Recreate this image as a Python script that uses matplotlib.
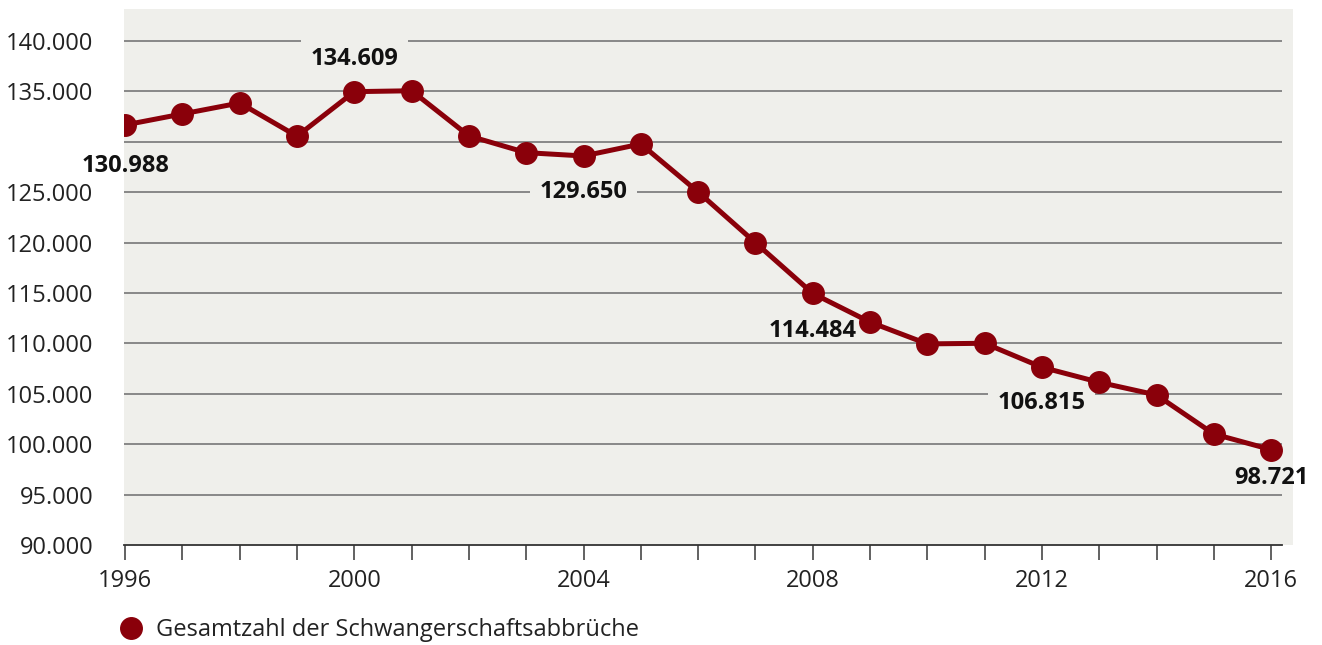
import matplotlib
matplotlib.use('agg')
import matplotlib.pyplot as plt
from matplotlib.lines import Line2D
from matplotlib.patches import Rectangle

plt.rcParams['font.family'] = ['Open Sans', 'DejaVu Sans']

# values
years = list(range(1996, 2017))
abbrueche = [131670, 132760, 133850, 130550, 134970, 135060, 130580, 128920, 128590, 129780,
             125020, 119990, 114960, 112110, 109950, 110010, 107630, 106140, 104880, 101010, 99460]

# annotated values (text as printed) and where they sit
label_texts = ['130.988', '134.609', '129.650', '114.484', '106.815', '98.721']
label_years = [1996, 2000, 2004, 2008, 2012, 2016]
label_levels = [127600, 138250, 125000, 111250, 104050, 96650]
# these labels sit on a grid line and blank it out
boxed_labels = ['134.609', '129.650', '106.815']

y_ticks = [90000, 95000, 100000, 105000, 110000, 115000, 120000, 125000, 130000, 135000, 140000]
y_tick_labels = ['90.000', '95.000', '100.000', '105.000', '110.000', '115.000',
                 '120.000', '125.000', '', '135.000', '140.000']
x_ticks = years
x_tick_labels = [str(y) if (y - 1996) % 4 == 0 else '' for y in years]

red = '#8a000a'
bg = '#efefeb'

fig = plt.figure(figsize=(13.22, 6.45), dpi=100)
ax = fig.add_axes([124 / 1322, 1 - 545 / 645, (1282 - 124) / 1322, (545 - 9) / 645])
ax.set_facecolor('none')
# background panel extends a little past the axis line
fig.patches.append(Rectangle((124 / 1322, 1 - 545 / 645), (1293 - 124) / 1322, (545 - 9) / 645,
                             transform=fig.transFigure, facecolor=bg, edgecolor='none', zorder=-1))

ax.set_xlim(1995.98, 2016.19)
ax.set_ylim(90000, 143170)

for t in y_ticks[1:]:
    ax.axhline(t, color='#808080', lw=1.3, zorder=1)

ax.plot(years, abbrueche, color=red, lw=3.6, marker='o', markersize=15.5, zorder=3)

for txt, yr, lv in zip(label_texts, label_years, label_levels):
    box = None
    if txt in boxed_labels:
        box = dict(boxstyle='square,pad=0.4', facecolor=bg, edgecolor='none')
    ax.text(yr, lv, txt, ha='center', va='center', fontsize=17, fontweight='bold',
            color='#111111', zorder=2, bbox=box)

ax.set_yticks(y_ticks)
ax.set_yticklabels(y_tick_labels)
ax.set_xticks(x_ticks)
ax.set_xticklabels(x_tick_labels)
ax.tick_params(axis='y', length=0, pad=22, labelsize=17, labelcolor='#222222')
ax.tick_params(axis='x', length=11, width=1.3, color='#555555', direction='out', pad=6,
               labelsize=17, labelcolor='#222222')

for s in ['top', 'right', 'left']:
    ax.spines[s].set_visible(False)
ax.spines['bottom'].set_color('#333333')
ax.spines['bottom'].set_linewidth(1.3)

handle = Line2D([], [], color=red, marker='o', markersize=15.5, lw=0)
fig.legend([handle], ['Gesamtzahl der Schwangerschaftsabbrüche'], loc='center left',
           bbox_to_anchor=(0.065, 0.023), frameon=False, fontsize=17, handletextpad=0.05,
           labelcolor='#222222')

fig.savefig('out.png', dpi=100)
